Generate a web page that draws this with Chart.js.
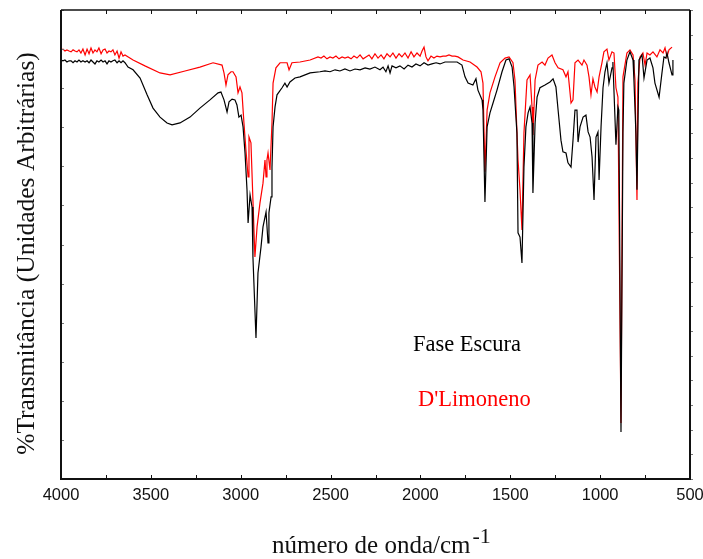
<!DOCTYPE html>
<html>
<head>
<meta charset="utf-8">
<script src="https://cdn.jsdelivr.net/npm/chart.js@4/dist/chart.umd.min.js"></script>
<style>
  html,body{margin:0;padding:0;background:#fff}
  #wrap{width:703px;height:559px}
</style>
</head>
<body>
<div id="wrap"><canvas id="ir" width="703" height="559"></canvas></div>
<script>
// Espectro IV: Fase Escura vs D'Limoneno (transmitância em unidades arbitrárias)
const xTicks=[4000,3500,3000,2500,2000,1500,1000,500];
const serieNomes=['Fase Escura',"D'Limoneno"];

const escuraWn=[4000,3989,3978,3967,3955,3944,3933,3922,3911,3900,
  3889,3878,3866,3855,3844,3833,3822,3811,3800,3789,
  3777,3766,3755,3744,3733,3722,3711,3700,3688,3677,
  3666,3655,3644,
  3627,3599,3560,3521,3488,3449,3410,3382,3338,3282,3227,3171,3126,3110,3093,
  3076,3065,3048,3032,3021,3010,2998,2987,2976,2965,
  2959,2948,2937,2932,2915,2904,2887,2876,2859,2848,
  2843,2831,2826,2820,2809,2798,2770,2754,2742,2726,
  2698,2670,2614,
  2559,2531,2503,2475,2448,2420,2392,2364,2336,2308,
  2281,2253,2225,2208,2192,2180,2169,2158,2136,2114,
  2091,2069,2047,2025,2002,1980,1958,1936,1913,1891,
  1863,1835,1796,
  1769,1752,1735,1708,1691,1680,1657,1652,1641,1629,1613,
  1596,1574,1546,1524,1507,1490,1479,1463,1457,1446,
  1435,1424,1413,1401,1390,1379,1374,1362,1351,1335,
  1307,1279,1262,1246,1234,1218,1207,1190,1179,1162,
  1151,1140,1129,1123,1112,1095,1079,1067,1056,1045,
  1034,1023,1012,1006,995,984,973,962,951,934,
  929,912,901,896,884,873,868,851,834,817,
  812,801,795,784,767,756,739,723,706,695,
  672,656,645,634,628,617,600,595];
const escuraT=[107.2,107.0,107.2,106.7,107.0,107.0,106.5,107.0,106.7,107.2,
  106.7,107.0,106.7,107.0,106.5,107.2,106.7,106.2,107.0,106.7,
  107.2,106.7,107.0,106.2,107.0,106.7,107.0,107.2,106.5,107.0,
  106.5,107.0,106.5,
  105.4,104.7,102.6,98.3,94.9,92.6,91.1,90.6,91.1,92.6,94.9,97.0,98.8,99.0,97.0,
  93.9,96.5,97.2,97.0,95.7,92.6,93.1,90.1,83.4,74.0,
  65.5,72.7,69.6,56.8,36.1,52.7,59.4,64.5,68.3,60.4,
  68.1,72.2,79.8,90.1,95.2,98.3,100.1,101.3,100.3,101.6,
  102.6,102.9,103.9,
  104.2,104.4,104.2,104.7,104.4,104.9,104.4,104.9,104.7,105.2,
  104.9,105.4,104.7,105.4,104.2,105.7,103.9,105.7,105.2,105.7,
  104.9,105.9,105.4,106.2,105.7,106.5,105.9,106.2,106.5,106.2,
  106.7,106.7,106.7,
  105.9,102.9,101.3,100.8,102.4,99.5,97.0,94.4,70.9,90.1,93.7,
  96.2,99.5,104.2,107.2,107.5,105.4,100.3,88.5,63.0,61.9,
  55.3,79.8,90.1,93.7,95.2,91.1,73.2,91.1,97.7,100.1,
  100.8,101.6,102.4,100.3,94.4,86.7,83.7,83.4,80.9,79.8,
  86.7,94.4,94.4,86.2,90.1,92.6,93.1,88.8,87.5,82.4,
  71.4,87.5,88.8,76.5,90.1,100.1,104.2,106.5,101.3,105.2,
  106.7,85.5,95.2,94.4,12.0,88.5,101.3,107.2,109.3,107.2,
  102.1,88.5,74.0,107.2,108.5,102.6,107.2,107.7,105.2,101.3,
  97.7,103.9,108.0,107.7,109.0,106.5,103.4,107.2];

const limonenoWn=[4000,3989,3978,3967,3955,3944,3933,3922,3911,3900,
  3889,3878,3866,3855,3844,3833,3822,3811,3800,3789,
  3777,3766,3755,3744,3733,3722,3711,3700,3688,3677,
  3666,3655,3644,
  3599,3533,3449,3393,3310,
  3227,3154,3104,3093,3082,3071,3054,3043,3026,3015,
  3004,2993,2982,2971,2959,2954,2943,2932,2921,2909,
  2893,2876,2865,2859,2854,2848,2837,2826,2820,2804,
  2781,2742,2731,2715,2670,2614,
  2570,2553,2537,2520,2503,2487,2470,2453,2436,2420,
  2403,2386,2370,2353,2336,2319,2303,2286,2270,2253,
  2236,2219,2203,2186,2169,2153,2136,2119,2103,2086,
  2069,2052,2036,2019,2002,1991,1980,1969,1958,1941,
  1925,1908,1891,1874,1858,1841,1824,1808,1791,
  1763,1724,1685,1663,1652,1641,1629,
  1613,1585,1557,1529,1507,1485,1474,1457,1446,1435,
  1424,1407,1390,1379,1374,1362,1346,1323,1307,1290,
  1268,1251,1234,1207,1190,1179,1162,1151,1140,1123,
  1101,1090,1073,1062,1051,1040,1029,1017,1006,990,
  979,962,951,934,923,912,901,884,873,851,
  834,817,806,795,790,778,762,750,739,723,
  706,684,667,650,639,628,617,600];
const limonenoT=[109.8,110.0,109.5,109.8,109.5,109.3,109.8,109.5,109.3,109.8,
  109.0,110.0,108.5,110.0,108.8,110.3,109.0,109.8,109.3,110.3,
  108.8,109.8,110.0,109.0,109.5,109.3,109.8,108.5,109.5,107.7,
  109.3,108.2,108.5,
  107.2,105.7,103.9,103.4,104.4,
  105.4,106.5,105.9,103.9,100.8,103.4,104.2,104.2,102.9,98.8,
  100.3,98.8,91.1,84.2,77.3,87.5,86.0,71.4,56.8,64.5,
  70.6,75.7,81.6,77.3,81.6,83.4,79.1,91.1,101.3,105.2,
  106.5,106.5,104.7,106.5,106.7,107.2,
  108.0,107.7,108.2,107.5,108.0,107.7,108.2,107.5,108.0,107.7,
  108.0,107.5,108.2,107.7,108.5,107.5,108.0,108.5,107.5,108.8,
  107.7,108.5,107.5,108.8,108.0,109.0,107.7,108.8,108.0,109.0,
  107.7,109.3,108.0,109.0,108.2,109.5,110.5,108.0,107.0,108.2,
  107.7,108.2,108.0,108.2,108.2,108.5,108.2,108.2,108.0,
  107.2,106.7,105.4,104.2,101.3,78.6,94.4,
  98.8,102.9,106.5,107.7,108.0,106.5,102.1,81.6,74.0,63.7,
  88.5,102.1,103.4,95.2,88.0,102.1,105.9,106.7,105.9,107.7,
  108.5,106.5,105.2,104.7,102.9,104.2,96.2,97.0,106.5,107.2,
  105.9,107.2,105.9,102.9,98.3,102.4,100.3,99.0,102.9,106.5,
  109.3,110.0,107.2,109.3,109.0,100.1,97.7,14.3,102.9,109.0,
  109.8,108.5,102.1,71.4,101.3,108.0,109.0,105.9,109.0,108.5,
  109.3,108.0,109.8,109.0,110.3,108.0,109.8,110.5];

const pts=(xs,ys)=>xs.map((x,i)=>({x:x,y:ys[i]}));

// moldura, marcas, rótulos e textos (estilo Origin)
const moldura={
  id:'moldura',
  afterDatasetsDraw(chart){
    const c=chart.ctx, a=chart.chartArea, sx=chart.scales.x, sy=chart.scales.y;
    c.save();
    c.strokeStyle='#111';
    // marcas superiores e inferiores a cada 250, para dentro
    c.lineWidth=1;
    for(let v=500;v<=4000;v+=250){
      const px=Math.round(sx.getPixelForValue(v))+0.5;
      c.beginPath();
      c.moveTo(px,a.top); c.lineTo(px,a.top+4);
      c.moveTo(px,a.bottom); c.lineTo(px,a.bottom-4);
      c.stroke();
    }
    // marcas da esquerda (para dentro) e da direita (para fora)
    c.strokeStyle='#777';
    for(let v=0;v<=120;v+=10){
      const py=Math.round(sy.getPixelForValue(v))+0.5;
      c.beginPath(); c.moveTo(a.left,py); c.lineTo(a.left+3,py); c.stroke();
    }
    for(let i=0;i<=19;i++){
      const py=Math.round(sy.getPixelForValue(120*i/19))+0.5;
      c.beginPath(); c.moveTo(a.right,py); c.lineTo(a.right+3,py); c.stroke();
    }
    // moldura
    c.strokeStyle='#111';
    c.lineWidth=1.5;
    c.beginPath(); c.moveTo(a.left,a.top); c.lineTo(a.right,a.top); c.stroke();
    c.lineWidth=2;
    c.beginPath();
    c.moveTo(a.left,a.top); c.lineTo(a.left,a.bottom);
    c.lineTo(a.right,a.bottom); c.lineTo(a.right,a.top);
    c.stroke();
    // rótulos do eixo x
    c.fillStyle='#111';
    c.font='16.5px "Liberation Sans", Arial, sans-serif';
    c.textAlign='center'; c.textBaseline='alphabetic';
    xTicks.forEach(v=>c.fillText(String(v),sx.getPixelForValue(v),500));
    // título do eixo x com expoente
    c.textAlign='left';
    c.font='25px "Liberation Serif", "Times New Roman", serif';
    const t1='número de onda/cm';
    const x0=272;
    c.fillText(t1,x0,553);
    const w1=c.measureText(t1).width;
    c.font='22px "Liberation Serif", "Times New Roman", serif';
    c.fillText('-1',x0+w1+2,543);
    // título do eixo y
    c.save();
    c.translate(34,(a.top+a.bottom)/2+9);
    c.rotate(-Math.PI/2);
    c.textAlign='center';
    c.font='25.5px "Liberation Serif", "Times New Roman", serif';
    c.fillText('%Transmitância (Unidades Arbitrárias)',0,0);
    c.restore();
    // legenda escrita dentro do gráfico
    c.textAlign='left';
    c.font='22.5px "Liberation Serif", "Times New Roman", serif';
    c.fillStyle='#000';
    c.fillText(serieNomes[0],413,351);
    c.fillStyle='#ff0000';
    c.fillText(serieNomes[1],418,406);
    c.restore();
  }
};

new Chart(document.getElementById('ir'),{
  type:'line',
  data:{datasets:[
    {label:serieNomes[0],data:pts(escuraWn,escuraT),borderColor:'#000',
     borderWidth:1.2,pointRadius:0,tension:0,order:1},
    {label:serieNomes[1],data:pts(limonenoWn,limonenoT),borderColor:'#ff0000',
     borderWidth:1.2,pointRadius:0,tension:0,order:2},
  ]},
  options:{
    responsive:false,animation:false,devicePixelRatio:1,
    layout:{padding:{left:61,right:13,top:10,bottom:80}},
    plugins:{legend:{display:false},tooltip:{enabled:false}},
    scales:{
      x:{type:'linear',reverse:true,min:500,max:4000,display:false},
      y:{type:'linear',min:0,max:120,display:false}
    }
  },
  plugins:[moldura]
});
</script>
</body>
</html>
